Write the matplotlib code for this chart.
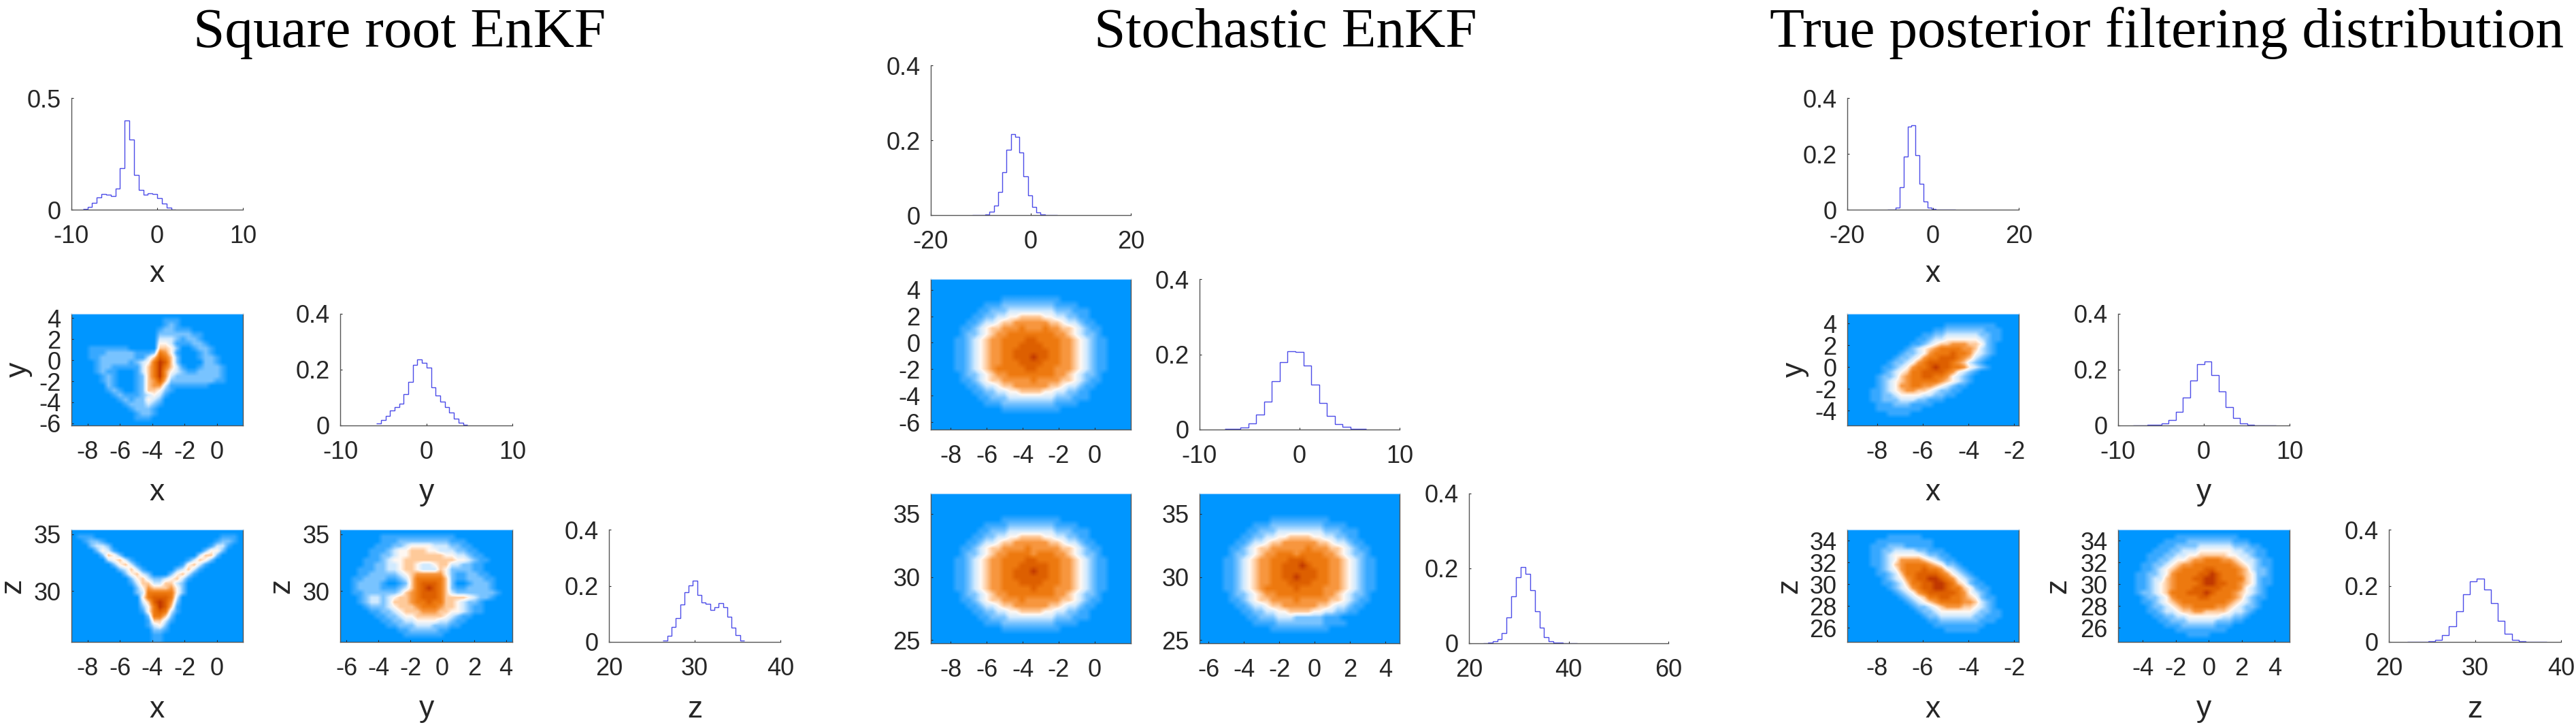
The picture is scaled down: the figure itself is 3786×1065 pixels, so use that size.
import numpy as np
import matplotlib
matplotlib.use("Agg")
import matplotlib.pyplot as plt
from matplotlib.colors import LinearSegmentedColormap

FIG_W, FIG_H = 3786, 1065
plt.rcParams['font.family'] = ['Liberation Sans', 'DejaVu Sans']
plt.rcParams['axes.unicode_minus'] = False

# ---- histogram values (density) ----
sq_x_vals = [.003,.011,.03,.056,.07,.067,.062,.096,.186,.40,.314,.156,.088,.066,.073,.07,.051,.026,.01,.001]
sq_x_bins = (-8.67, 2.17)
sq_y_vals = [.008,.02,.033,.053,.066,.078,.111,.156,.216,.236,.224,.208,.136,.108,.086,.066,.046,.025,.01,.003]
sq_y_bins = (-5.8, 4.8)
sq_z_vals = [.006,.022,.053,.086,.133,.177,.202,.217,.167,.141,.136,.115,.124,.139,.124,.089,.05,.024,.006]
sq_z_bins = (26.3, 35.8)

st_x_vals = [.0003,.0003,.0003,.002,.009,.025,.062,.114,.175,.216,.21,.167,.103,.053,.022,.007,.002,.0003,.0003,.0003]
st_x_bins = (-11.64, 5.36)
st_y_vals = [.001,.002,.005,.017,.039,.075,.128,.18,.208,.207,.171,.119,.071,.036,.015,.007,.002,.001]
st_y_bins = (-7.49, 6.68)
st_z_vals = [.0005,.002,.005,.011,.027,.07,.126,.177,.203,.186,.142,.085,.042,.017,.005,.0015,.001,.0005,.0003,.0003]
st_z_bins = (22.85, 41.65)

tr_x_vals = [.0003,.001,.008,.08,.19,.298,.302,.194,.093,.03,.008,.002,.001,.0005,.0003,.0003,.0003]
tr_x_bins = (-10.58, 5.2)
tr_y_vals = [.0005,.001,.002,.003,.008,.02,.05,.1,.16,.219,.229,.181,.121,.066,.027,.008,.003,.001,.0005,.0003]
tr_y_bins = (-8.27, 8.39)
tr_z_vals = [.0003,.0005,.001,.003,.008,.025,.056,.11,.17,.215,.225,.187,.137,.074,.03,.008,.003,.001,.0005,.0003]
tr_z_bins = (22.12, 38.32)

# ---- heat-map cells: (first column, colour levels 0-9), one entry per row, top row first ----
sq_xy = [
 (0,""),(16,"111"),(16,"121"),(15,"122111"),(15,"22222211"),(15,"33321221"),(15,"443111221"),
 (3,"1111111"+"00000"+"5542001221"),
 (3,"11122222111"+"2"+"7641"+"000"+"121"),
 (3,"1122222211"+"35"+"8752"+"000"+"1221"),
 (4,"1222221234"+"7"+"9852"+"0000"+"221"),
 (4,"122111113"+"57"+"9753"+"1001"+"2221"),
 (4,"12110001357"+"9643"+"21122221"),
 (5,"121000125"+"796322222222"+"1"),
 (5,"121000125"+"68522222222"+"11"),
 (6,"21000125"+"663"+"1111111"),
 (6,"121001255"+"421"),
 (7,"12111"+"23431"),
 (8,"12122"+"432"),
 (9,"12223"+"21"),
 (10,"12221"),(11,"1221"),(11,"111"),(0,""),
]
sq_xz = [
 (0,""),
 (1,"111"+"0"*22+"111"),
 (2,"1221"+"0"*19+"1221"),
 (3,"2332"+"0"*17+"1331"),
 (4,"2431"+"0"*15+"2442"),
 (5,"2542"+"0"*13+"3552"),
 (6,"34531"+"0"*9+"13542"),
 (7,"24531"+"0"*7+"14531"),
 (8,"23531"+"0"*5+"23531"),
 (9,"24532"+"000"+"24531"),
 (10,"2453"+"22"+"34531"),
 (10,"13553355320"),
 (11,"246555642"),
 (11,"237777742"),
 (12,"4788873"),
 (12,"3589862"),
 (12,"2479851"),
 (12,"1478731"),
 (13,"27752"),
 (13,"15531"),
 (13,"1342"),
 (14,"221"),
 (14,"11"),
 (14,"11"),
]
sq_yz = [
 (0,""),
 (7,"1111111111111"),
 (7,"111222222222111"),
 (6,"11122344443332211"),
 (5,"1112344555443332211"),
 (5,"1122344555555443"+"32"+"11"),
 (4,"11123445555555554"+"43211"),
 (4,"11223345543345533"+"22"+"11"),
 (3,"11122334554333542"+"2221"+"1"),
 (3,"11222223456666642"+"11"+"2211"),
 (2,"112222112357777752"+"11"+"22211"),
 (2,"12222100125788875200"+"12221"),
 (2,"122221112357898752"+"11"+"22221"),
 (2,"11222222356788875322222221"),
 (3,"1233234556788875555432"+"21"),
 (3,"123323555677877554"+"32"+"21"),
 (4,"1222345556777655"+"4321"+"1"),
 (5,"1122345556665544"+"32"+"11"),
 (6,"11223445555543"+"2"+"11"),
 (7,"112233444433"+"2"+"11"),
 (8,"1122233322211"),
 (10,"112222211"),
 (11,"1111111"),
 (0,""),
]

st_xy = [
 (0,""),(0,""),(0,""),
 (12,"1111111111"),
 (9,"1112222222221111"),
 (8,"1122233333333222111"),
 (7,"11223344555544332211"),
 (6,"1123345566666655433211"),
 (5,"112345566676667665543211"),
 (5,"122345667777777766543221"),
 (4,"11234566777788777766543211"),
 (4,"11234566777888877766543211"),
 (4,"11234566778888887766543211"),
 (4,"11234566778889887766543211"),
 (4,"11234566777888877766543211"),
 (4,"11234567777788777666543211"),
 (5,"122345667777777766543221"),
 (5,"112345566666766665543211"),
 (6,"1123345566666655433211"),
 (7,"11223344555544332211"),
 (8,"1122233333333222111"),
 (9,"1112222222221111"),
 (12,"1111111111"),
 (0,""),(0,""),(0,""),
]
st_xz = [
 (0,""),(0,""),(0,""),(0,""),
 (12,"1111111111"),
 (9,"1111222222221111"),
 (8,"1122233333333222111"),
 (7,"11223344555544332211"),
 (6,"1123345566666655433211"),
 (5,"112345566667666665543211"),
 (5,"122345667777677766543221"),
 (4,"11234566777788777766543211"),
 (4,"11234566777888887766543211"),
 (4,"11234566778889887766543211"),
 (4,"11234566778888887766543211"),
 (4,"11234566777888877766543211"),
 (4,"11234566777778777666543211"),
 (5,"122345667777777766543221"),
 (5,"112345566676666665543211"),
 (6,"1123345566666655433211"),
 (7,"11223344555544332211"),
 (8,"1122233333333222111"),
 (9,"1112222222221111"),
 (12,"1111111111"),
 (0,""),(0,""),
]
st_yz = [
 (0,""),(0,""),(0,""),(0,""),
 (12,"1111111111"),
 (9,"1112222222221111"),
 (8,"1122233333333222111"),
 (7,"11223344555544332211"),
 (6,"1123345566666655433211"),
 (5,"112345566666676665543211"),
 (5,"122345667776777766543221"),
 (4,"11234566777888777766543211"),
 (4,"11234566778889877766543211"),
 (4,"11234566778888887766543211"),
 (4,"11234566778898887766543211"),
 (4,"11234566777888877766543211"),
 (4,"11234567777787777666543211"),
 (5,"122345667777777766543221"),
 (5,"112345566667666665543211"),
 (6,"1123345566666655433211"),
 (7,"11223344555544332211"),
 (8,"1122233322222111"),
 (9,"1111222222221111"),
 (12,"1111111111"),
 (0,""),(0,""),
]

tr_xy = [
 (0,""),(0,""),
 (17,"111111111"),
 (15,"112222222111"),
 (13,"11223333332211"),
 (12,"112334444443211"),
 (11,"11234556665"+"5"+"4"+"21"),
 (10,"1234567777665"+"3"+"21"),
 (9,"1223467778776"+"4321"),
 (8,"12234677888"+"76"+"5321"),
 (7,"122346788887"+"65321"),
 (6,"11234677898877"+"64321"),
 (6,"1234577888876"+"4321"),
 (5,"122356778877"+"64321"),
 (5,"123456777776"+"54321"),
 (5,"1234667766"+"5"+"43211"),
 (4,"11234566554"+"322"+"11"),
 (4,"1122344443322"+"11"),
 (4,"112223332211"+"1"),
 (5,"1112221111"),
 (5,"11111111"),
 (7,"1111"),
 (0,""),(0,""),
]
tr_xz = [
 (0,""),
 (7,"111111"),
 (5,"1111111111"),
 (4,"11122211111"),
 (4,"1122333322111"),
 (4,"11234444432211"),
 (4,"112346666543211"),
 (4,"1123567777654221"),
 (5,"123467778776"+"4321"),
 (5,"1123577888876"+"4321"),
 (6,"1234678899876"+"4321"),
 (6,"11235778899875"+"4211"),
 (7,"12346788998775"+"4211"),
 (8,"123467888887"+"64321"),
 (9,"12345778877"+"654211"),
 (10,"1234567777"+"66"+"5321"),
 (11,"12234566655"+"4321"),
 (12,"12234444443"+"2211"),
 (13,"122333333"+"22"+"111"),
 (14,"112222222"+"111"),
 (15,"111111111"),
 (17,"111111"),
 (0,""),(0,""),
]
tr_yz = [
 (0,""),
 (10,"11111111111"),
 (8,"111122222222111"),
 (7,"111222233333322211"),
 (6,"11122333444444332211"),
 (5,"111223344555554433211"),
 (5,"1122344566777665433211"),
 (4,"11223456677777776543211"),
 (4,"11234567777887777653221"),
 (3,"112234677778898777654221"),
 (3,"112335677788998777754211"),
 (3,"112345677778998877654211"),
 (3,"11234567778888877764321"),
 (3,"12234577788898777654321"),
 (4,"1223467777887777653211"),
 (4,"112345677777777654321"),
 (5,"12234566777766543221"),
 (5,"1123345566555543321"),
 (6,"11223344444433221"),
 (7,"112223333322211"),
 (8,"111222222111"),
 (10,"111111111"),
 (12,"1111"),
 (0,""),
]

# ---- titles, labels, axis ranges and ticks ----
titles = ["Square root EnKF", "Stochastic EnKF", "True posterior filtering distribution"]

sq_lim = {'x': (-9.0, 1.6), 'y': (-6.2, 4.4), 'z': (25.5, 35.4), 'yb': (-6.4, 4.4)}
st_lim = {'x': (-9.1, 2.0), 'y': (-6.55, 4.8), 'z': (24.75, 36.6), 'yb': (-6.5, 4.8)}
tr_lim = {'x': (-9.3, -1.8), 'y': (-5.35, 4.9), 'z': (24.7, 35.0), 'yb': (-5.5, 4.9)}
sq_ticks = {'x': [-8,-6,-4,-2,0], 'y': [-6,-4,-2,0,2,4], 'z': [30,35]}
st_ticks = {'x': [-8,-6,-4,-2,0], 'y': [-6,-4,-2,0,2,4], 'z': [25,30,35]}
tr_ticks = {'x': [-8,-6,-4,-2], 'y': [-4,-2,0,2,4], 'z': [26,28,30,32,34]}

# ---- layout in pixels ----
def add_ax(fig, l, r, t, b):
    return fig.add_axes([l/FIG_W, 1-b/FIG_H, (r-l)/FIG_W, (b-t)/FIG_H])

cmap = LinearSegmentedColormap.from_list("bwo", [
    "#0096FF", "#38A9FF", "#7AC4FF", "#D0EAFF", "#FFF8F2",
    "#FFCB9C", "#F7963E", "#EE7A10", "#DE6000", "#C03800"])

INK = "#262626"
TICK_PT = 26
LABEL_PT = 32
fig = plt.figure(figsize=(FIG_W/100, FIG_H/100), dpi=100, facecolor="white")

def style(ax):
    ax.tick_params(direction='in', length=2.5, width=0.8, color=INK, labelcolor=INK,
                   labelsize=TICK_PT)
    ax.tick_params(axis='x', pad=16)
    ax.tick_params(axis='y', pad=11)

def fmt(v):
    return f"{v:g}"

def hist(ax, vals, bins, xlim, xticks, ymax, yticks):
    edges = np.linspace(bins[0], bins[1], len(vals)+1)
    ax.stairs(vals, edges, color="#4C4CE8", lw=1.0, baseline=None)
    ax.set_xlim(*xlim); ax.set_ylim(0, ymax)
    ax.set_xticks(xticks); ax.set_xticklabels([fmt(v) for v in xticks])
    ax.set_yticks(yticks); ax.set_yticklabels([fmt(v) for v in yticks])
    for s in ('top', 'right'):
        ax.spines[s].set_visible(False)
    for s in ('left', 'bottom'):
        ax.spines[s].set_color("#555555"); ax.spines[s].set_linewidth(1.0)
    style(ax)

def heat(ax, rows, width, xlim, ylim, xticks, yticks):
    g = np.zeros((len(rows), width))
    for i, (start, digits) in enumerate(rows):
        for j, ch in enumerate(digits):
            if start + j < width:
                g[i, start + j] = int(ch)
    ax.imshow(g, cmap=cmap, vmin=0, vmax=9, aspect='auto', origin='upper',
              extent=(xlim[0], xlim[1], ylim[0], ylim[1]), interpolation='bilinear')
    ax.set_xlim(*xlim); ax.set_ylim(*ylim)
    ax.set_xticks(xticks); ax.set_xticklabels([fmt(v) for v in xticks])
    ax.set_yticks(yticks); ax.set_yticklabels([fmt(v) for v in yticks])
    ax.spines['top'].set_color("#9CD2FF"); ax.spines['top'].set_linewidth(0.8)
    for s in ('left', 'bottom', 'right'):
        ax.spines[s].set_color("#555555"); ax.spines[s].set_linewidth(1.0)
    style(ax)

def xlab(ax, text, h, off):
    ax.set_xlabel(text, fontsize=LABEL_PT, color=INK, va='center')
    ax.xaxis.set_label_coords(0.5, -off/h)

def ylab(ax, text, w, off, ycen=0.5):
    ax.set_ylabel(text, fontsize=LABEL_PT, color=INK, va='center', rotation=90)
    ax.yaxis.set_label_coords(-off/w, ycen)

groups = [
 dict(cols=[(105,357),(500,753),(895,1147)], rows=[(144,308),(461,625),(778,943)]),
 dict(cols=[(1368,1662),(1763,2057),(2159,2452)], rows=[(96,316),(410,631),(725,945)]),
 dict(cols=[(2715,2967),(3113,3365),(3511,3764)], rows=[(144,308),(461,625),(778,943)]),
]
# Group 1
g = groups[0]; c = g['cols']; r = g['rows']
a = add_ax(fig, c[0][0], c[0][1], *r[0]); hist(a, sq_x_vals, sq_x_bins, (-10,10), [-10,0,10], .5, [0,.5]); xlab(a,"x",164,95)
a = add_ax(fig, c[0][0], c[0][1], *r[1]); heat(a, sq_xy, 30, sq_lim['x'], sq_lim['y'], sq_ticks['x'], sq_ticks['y']); xlab(a,"x",164,98); ylab(a,"y",252,78)
a = add_ax(fig, c[1][0], c[1][1], *r[1]); hist(a, sq_y_vals, sq_y_bins, (-10,10), [-10,0,10], .4, [0,.2,.4]); xlab(a,"y",164,98)
a = add_ax(fig, c[0][0], c[0][1], *r[2]); heat(a, sq_xz, 30, sq_lim['x'], sq_lim['z'], sq_ticks['x'], sq_ticks['z']); xlab(a,"x",165,99); ylab(a,"z",252,86)
a = add_ax(fig, c[1][0], c[1][1], *r[2]); heat(a, sq_yz, 30, sq_lim['yb'], sq_lim['z'], sq_ticks['y'], sq_ticks['z']); xlab(a,"y",165,99); ylab(a,"z",253,86)
a = add_ax(fig, c[2][0], c[2][1], *r[2]); hist(a, sq_z_vals, sq_z_bins, (20,40), [20,30,40], .4, [0,.2,.4]); xlab(a,"z",165,99)
# Group 2
g = groups[1]; c = g['cols']; r = g['rows']
a = add_ax(fig, c[0][0], c[0][1], *r[0]); hist(a, st_x_vals, st_x_bins, (-20,20), [-20,0,20], .4, [0,.2,.4])
a = add_ax(fig, c[0][0], c[0][1], *r[1]); heat(a, st_xy, 34, st_lim['x'], st_lim['y'], st_ticks['x'], st_ticks['y'])
a = add_ax(fig, c[1][0], c[1][1], *r[1]); hist(a, st_y_vals, st_y_bins, (-10,10), [-10,0,10], .4, [0,.2,.4])
a = add_ax(fig, c[0][0], c[0][1], *r[2]); heat(a, st_xz, 34, st_lim['x'], st_lim['z'], st_ticks['x'], st_ticks['z'])
a = add_ax(fig, c[1][0], c[1][1], *r[2]); heat(a, st_yz, 34, st_lim['yb'], st_lim['z'], st_ticks['y'], st_ticks['z'])
a = add_ax(fig, c[2][0], c[2][1], *r[2]); hist(a, st_z_vals, st_z_bins, (20,60), [20,40,60], .4, [0,.2,.4])
# Group 3
g = groups[2]; c = g['cols']; r = g['rows']
a = add_ax(fig, c[0][0], c[0][1], *r[0]); hist(a, tr_x_vals, tr_x_bins, (-20,20), [-20,0,20], .4, [0,.2,.4]); xlab(a,"x",164,95)
a = add_ax(fig, c[0][0], c[0][1], *r[1]); heat(a, tr_xy, 30, tr_lim['x'], tr_lim['y'], tr_ticks['x'], tr_ticks['y']); xlab(a,"x",164,98); ylab(a,"y",252,77)
a = add_ax(fig, c[1][0], c[1][1], *r[1]); hist(a, tr_y_vals, tr_y_bins, (-10,10), [-10,0,10], .4, [0,.2,.4]); xlab(a,"y",164,98)
a = add_ax(fig, c[0][0], c[0][1], *r[2]); heat(a, tr_xz, 30, tr_lim['x'], tr_lim['z'], tr_ticks['x'], tr_ticks['z']); xlab(a,"x",165,99); ylab(a,"z",252,85)
a = add_ax(fig, c[1][0], c[1][1], *r[2]); heat(a, tr_yz, 30, tr_lim['yb'], tr_lim['z'], tr_ticks['y'], tr_ticks['z']); xlab(a,"y",165,99); ylab(a,"z",252,88)
a = add_ax(fig, c[2][0], c[2][1], *r[2]); hist(a, tr_z_vals, tr_z_bins, (20,40), [20,30,40], .4, [0,.2,.4]); xlab(a,"z",165,99)

# Titles
title_x = [587, 1889, 3185]
for t, x in zip(titles, title_x):
    fig.text(x/FIG_W, 1-69/FIG_H, t, family='Liberation Serif', fontsize=60, color='black',
             ha='center', va='baseline')

fig.savefig("out.png", dpi=100)
